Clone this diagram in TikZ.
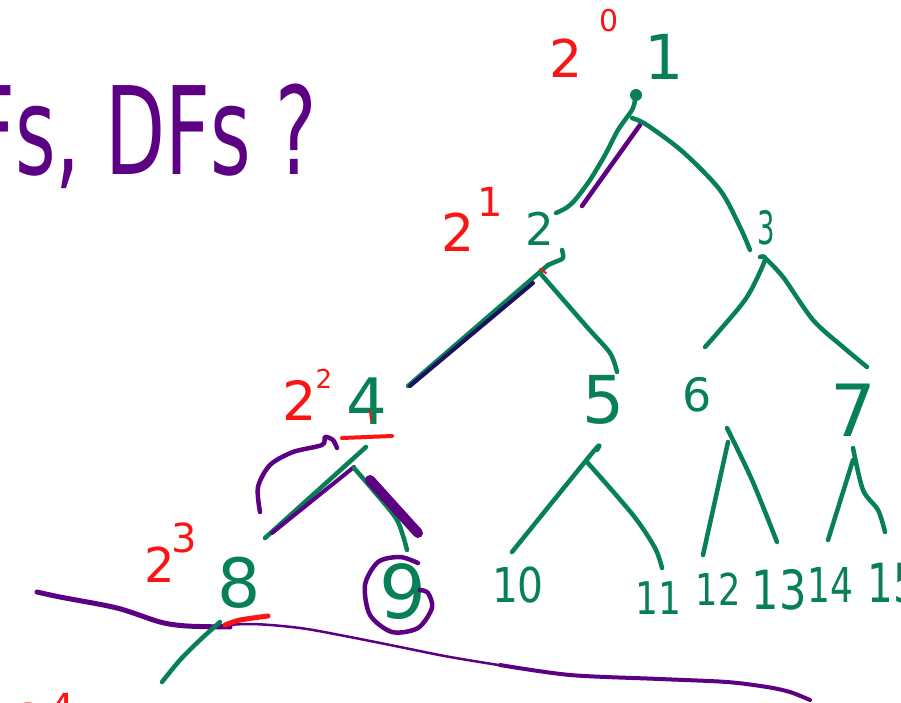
\documentclass[tikz,border=0pt]{standalone}
\usepackage{fontspec}
\setmainfont{DejaVu Sans}
\newcommand{\hsz}[1]{\fontsize{#1}{#1}\selectfont}
\definecolor{tgreen}{RGB}{8,128,86}
\definecolor{tpurple}{RGB}{92,0,132}
\definecolor{tred}{RGB}{250,20,20}
\definecolor{tnavy}{RGB}{28,16,96}
\tikzset{
  gline/.style={draw=tgreen,line width=4.5pt,line cap=round,line join=round},
  pline/.style={draw=tpurple,line width=4.5pt,line cap=round,line join=round},
  rline/.style={draw=tred,line width=4pt,line cap=round,line join=round},
  glabel/.style={text=tgreen,inner sep=0pt,anchor=center},
  rlabel/.style={text=tred,inner sep=0pt,anchor=center},
}
\begin{document}
\begin{tikzpicture}[x=1pt,y=-1pt]
\useasboundingbox (0,0) rectangle (901,703);
\fill[white] (0,0) rectangle (901,703);

% title
\node[text=tpurple,inner sep=0pt,anchor=base west,xscale=0.64] (title) at (-30,175) {\hsz{122}Fs, DFs ?};

% tree labels
\node[glabel] (n1) at (664,57) {\hsz{62}1};
\node[rlabel] (p0) at (566,58) {\hsz{52}2};
\node[rlabel] (e0) at (609,21) {\hsz{30}0};
\fill[tgreen] (636,95) circle (6);

\node[glabel] (n2) at (540,229) {\hsz{45}2};
\node[rlabel] (p1) at (458,232) {\hsz{52}2};
\node[rlabel] (e1) at (490,202) {\hsz{40}1};
\node[glabel,xscale=0.6] (n3) at (766,228) {\hsz{46}3};

\node[glabel] (n4) at (367,401) {\hsz{64}4};
\node[rlabel] (p2) at (300,400) {\hsz{54}2};
\node[rlabel] (e2) at (324,379) {\hsz{26}2};
\node[glabel] (n5) at (603,400) {\hsz{66}5};
\node[glabel] (n6) at (697,395) {\hsz{46}6};
\node[glabel] (n7) at (853,410) {\hsz{72}7};

\node[glabel] (n8) at (239,583) {\hsz{68}8};
\node[rlabel] (p3) at (160,565) {\hsz{48}2};
\node[rlabel] (e3) at (184,538) {\hsz{40}3};
\node[glabel] (n9) at (403,592) {\hsz{74}9};
\node[glabel,xscale=0.85] (n10) at (518,585) {\hsz{48}10};
\node[glabel,xscale=0.8] (n11) at (658,598) {\hsz{45}11};
\node[glabel,xscale=0.8] (n12) at (718,589) {\hsz{44}12};
\node[glabel,xscale=0.8] (n13) at (779,590) {\hsz{54}13};
\node[glabel,xscale=0.75] (n14) at (830,585) {\hsz{48}14};
\node[glabel,xscale=0.75] (n15) at (893,583) {\hsz{54}15};
\node[rlabel] (p4) at (30,722) {\hsz{52}2};
\node[rlabel] (e4) at (62,708) {\hsz{40}4};

% edges 1-2 and 1-3
\draw[gline] plot[smooth] coordinates {(635,100) (632,110) (618,130) (605,155) (590,180) (575,200) (566,208) (556,213)};
\draw[pline] (640,125) -- (582,206);
\draw[gline] plot[smooth] coordinates {(632,118) (647,125) (683,152) (720,190) (740,227) (750,250)};

% edges 2-4 and 2-5
\draw[gline] plot[smooth] coordinates {(562,250) (563,258) (555,262) (548,265)};
\draw[gline] (548,265) -- (408,386);
\draw[draw=tnavy,line width=4pt,line cap=round] (533,283) -- (410,386);
\draw[gline] plot[smooth] coordinates {(540,273) (587,327) (610,353) (617,372)};
\draw[rline,line width=2pt] (540,269) -- (546,273);

% edges 3-6 and 3-7
\draw[gline] plot[smooth] coordinates {(760,257) (765,260) (747,297) (720,330) (705,347)};
\draw[gline] plot[smooth] coordinates {(765,258) (783,277) (813,320) (843,347) (867,367)};

% edges 4-8 and 4-9
\draw[rline] (342,438) -- (392,436);
\draw[rline,line width=2pt] (370,411) -- (371,420);
\draw[gline] (366,447) -- (265,538);
\draw[pline,line width=4pt] (354,467) -- (272,533);
\draw[gline] plot[smooth] coordinates {(354,468) (373,490) (397,520) (407,550)};
\draw[pline,line width=10pt] (370,480) -- (418,533);
\draw[pline] plot[smooth] coordinates {(260,512) (258,487) (270,465) (293,452) (322,445) (325,437) (333,440) (337,448)};

% edges 5,6,7 children
\draw[gline] plot[smooth] coordinates {(597,450) (593,452) (512,552)};
\draw[gline] plot[smooth] coordinates {(587,462) (633,515) (655,548) (662,568)};
\draw[gline] (728,442) -- (703,555);
\draw[gline] plot[smooth] coordinates {(727,428) (752,480) (777,542)};
\draw[gline] (853,460) -- (828,540);
\draw[gline] plot[smooth] coordinates {(853,448) (863,490) (878,510) (885,532)};

% circle around 9
\draw[pline] plot[smooth] coordinates {(418,563) (400,557) (378,562) (365,585) (370,615) (392,632) (418,628) (432,608) (428,593) (420,590)};

% bottom line and strokes
\draw[pline,line width=5pt] plot[smooth] coordinates {(37,592) (60,597) (117,608) (160,622) (187,626) (230,627)};
\draw[pline,line width=2.5pt] plot[smooth] coordinates {(200,627) (250,624) (300,628) (350,637) (400,647) (450,657) (517,668)};
\draw[pline,line width=4pt] plot[smooth] coordinates {(500,665) (570,675) (660,679) (727,682) (767,687) (790,692) (810,700)};
\draw[rline,line width=5pt] plot[smooth] coordinates {(225,625) (240,620) (268,616)};
\draw[gline] plot[smooth] coordinates {(220,622) (200,640) (180,660) (162,682)};
\end{tikzpicture}
\end{document}
